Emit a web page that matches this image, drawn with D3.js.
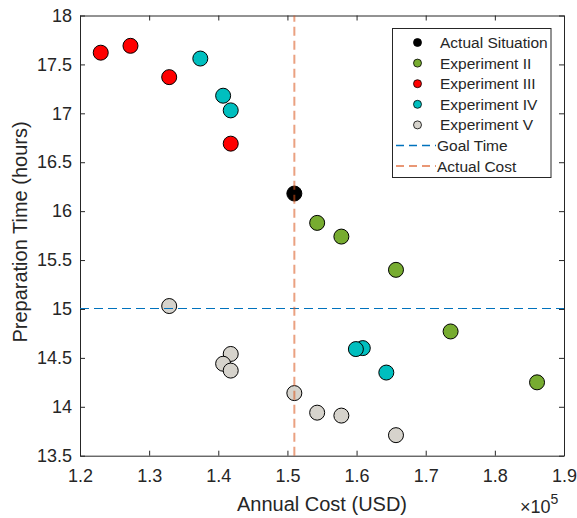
<!DOCTYPE html>
<html>
  <head>
   <meta charset="utf-8" />
   <title>Preparation time vs annual cost</title>
   <style>
     body { margin: 0; background: #fff; }
     text { font-family: "Liberation Sans", Arial, sans-serif; fill: #262626; }
   </style>
  </head>
  <body>
<svg id="chart" width=577 height=518></svg>
  </body>
  <script src="https://d3js.org/d3.v7.min.js"></script>
  <script>

    // annual cost in USD, preparation time in hours
    var actualCost = [151000];
    var actualTime = [16.18];

    var exp2Cost = [154300, 157800, 165700, 173600, 186100];
    var exp2Time = [15.88, 15.74, 15.40, 14.77, 14.25];

    var exp3Cost = [123000, 127300, 132900, 141800];
    var exp3Time = [17.62, 17.69, 17.37, 16.69];

    var exp4Cost = [137400, 140700, 141800, 160900, 159900, 164300];
    var exp4Time = [17.56, 17.18, 17.03, 14.60, 14.59, 14.35];

    var exp5Cost = [132900, 141800, 140700, 141800, 151000, 154300, 157800, 165700];
    var exp5Time = [15.03, 14.54, 14.44, 14.37, 14.14, 13.94, 13.91, 13.71];

    var goalTime = 15;
    var actualCostLine = 151000;

    var xTicks = [120000, 130000, 140000, 150000, 160000, 170000, 180000, 190000];
    var yTicks = [13.5, 14, 14.5, 15, 15.5, 16, 16.5, 17, 17.5, 18];

    var series = [
      {name: "Actual Situation", cost: actualCost, time: actualTime, color: "#000000"},
      {name: "Experiment II", cost: exp2Cost, time: exp2Time, color: "#77ac30"},
      {name: "Experiment III", cost: exp3Cost, time: exp3Time, color: "#ff0000"},
      {name: "Experiment IV", cost: exp4Cost, time: exp4Time, color: "#00bfbf"},
      {name: "Experiment V", cost: exp5Cost, time: exp5Time, color: "#d6d3cc"}
    ];
    var lineItems = [
      {name: "Goal Time", color: "#0072bd", opacity: 1},
      {name: "Actual Cost", color: "#d95319", opacity: 0.55}
    ];

    var plotL = 80, plotR = 564, plotT = 15.5, plotB = 455.7;
    var axisColor = "#262626";

    var svg = d3.select("#chart");

    var x = d3.scaleLinear().domain([120000, 190000]).range([plotL, plotR]);
    var y = d3.scaleLinear().domain([13.5, 18]).range([plotB, plotT]);

    // axes, box on with inward ticks on all sides
    var fmtX = function(d){ return d3.format(".1f")(d / 1e5); };
    var fmtY = function(d){ return String(d); };

    svg.append("g").attr("transform", "translate(0," + plotB + ")")
      .call(d3.axisBottom(x).tickValues(xTicks).tickFormat(fmtX).tickSizeInner(-5).tickSizeOuter(0).tickPadding(10))
      .attr("class", "ax xb");
    svg.append("g").attr("transform", "translate(0," + plotT + ")")
      .call(d3.axisTop(x).tickValues(xTicks).tickFormat("").tickSizeInner(-5).tickSizeOuter(0))
      .attr("class", "ax");
    svg.append("g").attr("transform", "translate(" + plotL + ",0)")
      .call(d3.axisLeft(y).tickValues(yTicks).tickFormat(fmtY).tickSizeInner(-5).tickSizeOuter(0).tickPadding(8))
      .attr("class", "ax yl");
    svg.append("g").attr("transform", "translate(" + plotR + ",0)")
      .call(d3.axisRight(y).tickValues(yTicks).tickFormat("").tickSizeInner(-5).tickSizeOuter(0))
      .attr("class", "ax");

    svg.selectAll(".ax path").attr("stroke", axisColor);
    svg.selectAll(".ax line").attr("stroke", axisColor);
    svg.selectAll(".ax text").attr("font-size", 18).attr("fill", axisColor)
      .attr("font-family", "Liberation Sans, Arial, sans-serif");
    svg.selectAll(".xb text").attr("dy", null).attr("y", 26);

    // points
    series.forEach(function(s){
      var pts = s.cost.map(function(c, i){ return [c, s.time[i]]; });
      svg.append("g").selectAll("circle")
        .data(pts)
        .enter().append("circle")
        .attr("cx", function(d){ return x(d[0]); })
        .attr("cy", function(d){ return y(d[1]); })
        .attr("r", 7.5)
        .attr("fill", s.color)
        .attr("stroke", "#000")
        .attr("stroke-width", 1);
    });

    // reference lines
    svg.append("line")
      .attr("x1", x(120000)).attr("x2", x(190000))
      .attr("y1", y(goalTime)).attr("y2", y(goalTime))
      .attr("stroke", lineItems[0].color).attr("stroke-dasharray", "9,5")
      .attr("stroke-width", 1).attr("shape-rendering", "crispEdges");
    svg.append("line")
      .attr("x1", x(actualCostLine)).attr("x2", x(actualCostLine))
      .attr("y1", y(13.5)).attr("y2", y(18))
      .attr("stroke", lineItems[1].color).attr("stroke-opacity", lineItems[1].opacity)
      .attr("stroke-dasharray", "9,5").attr("stroke-width", 2);

    // labels
    svg.append("text")
      .attr("x", (plotL + plotR) / 2).attr("y", 511)
      .attr("text-anchor", "middle").attr("font-size", 20)
      .text("Annual Cost (USD)");
    svg.append("text")
      .attr("transform", "translate(27," + 232 + ") rotate(-90)")
      .attr("text-anchor", "middle").attr("font-size", 20)
      .text("Preparation Time (hours)");
    var ex = svg.append("text")
      .attr("x", 520).attr("y", 513).attr("font-size", 18);
    ex.append("tspan").text("\u00d710");
    ex.append("tspan").attr("dy", -9).attr("font-size", 14).text("5");

    // legend
    var lg = svg.append("g");
    lg.append("rect")
      .attr("x", 392.5).attr("y", 28.5).attr("width", 158.5).attr("height", 149)
      .attr("fill", "#fff").attr("stroke", axisColor).attr("stroke-width", 1);
    var rowY = function(i){ return 42.5 + i * 20.6; };
    series.forEach(function(s, i){
      lg.append("circle").attr("cx", 417.5).attr("cy", rowY(i)).attr("r", 4)
        .attr("fill", s.color).attr("stroke", "#000").attr("stroke-width", 0.8);
      lg.append("text").attr("x", 440).attr("y", rowY(i)).attr("dy", "0.36em")
        .attr("font-size", 15.5).text(s.name);
    });
    lineItems.forEach(function(l, j){
      var i = series.length + j;
      lg.append("line").attr("x1", 396).attr("x2", 436)
        .attr("y1", rowY(i)).attr("y2", rowY(i))
        .attr("stroke", l.color).attr("stroke-opacity", j == 1 ? 0.8 : 1)
        .attr("stroke-dasharray", "8,5").attr("stroke-width", 1.5);
      lg.append("text").attr("x", 437).attr("y", rowY(i)).attr("dy", "0.36em")
        .attr("font-size", 15.5).text(l.name);
    });

  </script>
</html>
